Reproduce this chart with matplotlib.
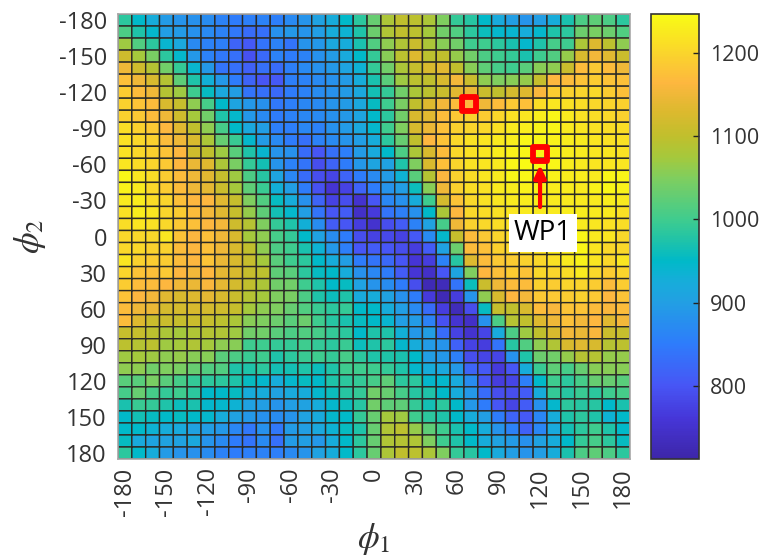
import numpy as np
import matplotlib
matplotlib.use("Agg")
import matplotlib.pyplot as plt
from matplotlib.colors import LinearSegmentedColormap
from matplotlib.markers import MarkerStyle

plt.rcParams["font.family"] = ["Open Sans", "DejaVu Sans"]
plt.rcParams["mathtext.fontset"] = "stix"

TICKS = list(range(-180, 181, 30))
PHI = list(range(-180, 181, 10))

# value read per cell, rows run from phi2 = -180 (top) to 180 (bottom)
ENERGY = [
    [985,950,925,895,885,880,875,860,850,855,860,855,870,885,905,925,950,985,1030, 1080,1100,1095,1080,1050,990,980,950,920,900,885,900,925,970,1010,1025,1010,985],
    [1010,975,945,900,895,880,870,860,845,830,835,880,890,885,900,925,935,975,1035, 1085,1100,1095,1075,1040,1015,985,960,945,940,925,945,975,985,1035,1045,1035,1015],
    [1070,1015,985,940,915,870,860,855,820,805,840,860,840,885,890,915,925,970,1015, 1060,1085,1110,1080,1055,1040,1000,1000,985,970,945,975,1005,1000,1080,1130,1095,1060],
    [1115,1075,1045,985,945,890,860,845,835,795,825,860,850,860,880,895,920,950,990, 1055,1095,1130,1095,1100,1065,1040,1010,1000,990,970,1000,1015,1065,1125,1155,1135,1110],
    [1150,1115,1090,1040,990,940,890,840,835,815,835,830,855,870,880,890,910,935,990, 1040,1080,1105,1125,1135,1100,1055,1025,1005,1000,1020,1055,1060,1110,1170,1185,1170,1150],
    [1175,1150,1125,1090,1025,975,930,890,850,820,800,805,855,860,870,880,895,925,970, 1020,1070,1095,1100,1125,1155,1110,1060,1050,1055,1065,1105,1165,1170,1180,1190,1180,1175],
    [1190,1170,1150,1090,1070,1000,955,915,900,840,835,825,850,860,875,880,895,915,965, 990,1040,1080,1095,1110,1135,1145,1110,1100,1120,1130,1160,1190,1195,1200,1205,1190,1175],
    [1195,1180,1170,1125,1105,1060,1005,950,910,890,880,845,855,865,870,885,895,915,955, 1000,1045,1100,1130,1155,1170,1165,1150,1170,1185,1175,1210,1220,1215,1210,1205,1200,1195],
    [1195,1185,1170,1150,1115,1075,1040,975,945,890,870,850,860,865,870,880,890,910,950, 985,1040,1125,1135,1170,1185,1195,1190,1205,1215,1220,1230,1240,1225,1215,1210,1205,1195],
    [1210,1195,1185,1165,1135,1100,1060,1005,950,915,900,855,855,865,860,880,895,915,945, 1000,1050,1125,1145,1175,1195,1200,1205,1215,1225,1230,1235,1240,1225,1220,1215,1210,1210],
    [1215,1205,1195,1170,1150,1125,1080,1030,995,945,895,870,850,835,860,870,885,900,925, 985,1030,1100,1165,1180,1205,1215,1220,1225,1230,1240,1240,1235,1230,1225,1220,1215,1215],
    [1215,1205,1195,1180,1165,1115,1100,1070,1020,975,940,885,880,830,800,835,855,895,920, 950,1010,1080,1125,1170,1205,1215,1220,1230,1235,1240,1240,1235,1230,1225,1220,1220,1215],
    [1220,1210,1200,1185,1165,1145,1130,1080,1045,990,965,885,860,840,790,820,850,890,910, 905,975,1050,1125,1175,1200,1215,1220,1225,1240,1245,1245,1240,1230,1225,1220,1220,1220],
    [1240,1220,1210,1190,1170,1150,1135,1105,1070,1010,980,910,865,830,790,780,820,850,870, 895,935,1020,1090,1165,1195,1210,1220,1225,1240,1240,1240,1235,1230,1230,1225,1240,1240],
    [1235,1225,1205,1190,1170,1150,1140,1110,1075,1025,995,930,900,850,795,755,775,820,850, 885,900,960,1055,1150,1195,1210,1215,1225,1230,1235,1235,1230,1230,1225,1235,1240,1235],
    [1225,1230,1210,1200,1175,1165,1165,1135,1105,1050,1015,955,925,880,820,775,790,750,800, 865,880,925,1000,1120,1180,1205,1215,1220,1225,1230,1230,1225,1225,1225,1225,1230,1225],
    [1215,1230,1220,1200,1190,1170,1155,1135,1105,1065,1025,965,945,900,840,800,810,745,765, 840,855,880,950,1080,1165,1205,1210,1215,1220,1225,1225,1225,1230,1230,1225,1225,1215],
    [1210,1220,1215,1205,1185,1175,1165,1155,1115,1090,1050,990,975,930,875,810,800,770,750, 790,810,860,905,1005,1150,1195,1205,1210,1215,1220,1220,1225,1230,1225,1220,1215,1210],
    [1205,1205,1205,1220,1180,1165,1175,1150,1125,1075,1060,1005,990,950,905,875,850,790,775, 785,775,805,870,945,1105,1170,1185,1200,1210,1215,1220,1220,1220,1240,1225,1220,1205],
    [1205,1205,1195,1195,1170,1165,1175,1150,1125,1100,1060,1010,1000,970,935,890,855,800,810, 800,790,770,810,905,1035,1170,1175,1195,1205,1210,1215,1225,1225,1240,1220,1205,1205],
    [1220,1195,1190,1190,1170,1165,1180,1145,1125,1105,1075,1020,1000,985,950,925,900,850,840, 825,800,760,770,860,980,1130,1170,1185,1190,1195,1205,1215,1225,1235,1220,1205,1220],
    [1200,1180,1175,1185,1165,1155,1165,1140,1125,1105,1095,1025,1020,985,955,950,925,880,865, 850,810,760,745,800,910,1050,1165,1175,1190,1180,1205,1200,1210,1225,1205,1190,1200],
    [1190,1170,1170,1165,1150,1145,1160,1140,1120,1100,1080,1040,1040,1000,975,950,955,905,885, 875,850,790,725,730,840,960,1110,1150,1170,1170,1195,1190,1200,1200,1190,1170,1190],
    [1180,1165,1155,1135,1125,1130,1140,1125,1110,1090,1075,1050,1045,1010,975,960,975,920,925, 905,880,850,765,725,770,885,1060,1125,1165,1155,1185,1185,1190,1195,1185,1165,1180],
    [1170,1150,1145,1120,1120,1125,1120,1115,1105,1075,1060,1050,1030,1015,995,985,990,950,950, 925,900,870,830,770,730,790,955,1105,1100,1125,1170,1160,1180,1180,1170,1160,1170],
    [1170,1130,1110,1110,1105,1110,1105,1095,1080,1055,1050,1035,1020,1035,1000,980,970,955,950, 940,900,895,860,795,755,745,880,1010,1090,1100,1130,1150,1175,1155,1165,1135,1155],
    [1105,1105,1095,1080,1075,1085,1090,1085,1070,1040,1040,1020,1010,1015,1005,990,985,950,975, 975,930,890,900,830,775,750,780,920,1010,1070,1100,1125,1155,1145,1160,1110,1105],
    [1095,1090,1095,1070,1075,1085,1075,1060,1055,1000,1000,990,990,1000,990,985,995,960,975, 985,945,925,895,885,815,775,770,840,980,1015,1060,1085,1125,1135,1125,1090,1095],
    [1070,1075,1070,1060,1065,1055,1055,1020,1010,995,1000,975,985,995,1000,990,1005,985,975, 975,970,950,900,890,855,790,780,780,880,975,1035,1040,1065,1090,1090,1065,1065],
    [1060,1060,1040,1050,1045,1030,1015,1015,975,975,985,965,965,975,960,975,1000,1000,1000, 990,975,945,925,915,890,820,805,765,800,925,995,1025,1005,1030,1055,1055,1055],
    [1020,1020,1045,1020,1005,990,985,985,975,955,945,925,945,955,950,975,985,990,1005, 1025,985,985,945,945,920,875,800,770,780,855,950,1000,985,1005,1030,1030,1020],
    [1005,1030,1005,990,1000,985,950,950,955,925,925,905,920,925,945,960,980,990,1040, 1030,1005,980,975,950,925,890,830,790,790,810,925,990,980,995,985,1000,1005],
    [970,995,990,975,960,970,945,945,935,905,900,885,900,905,925,945,960,980,1040, 1025,1025,990,965,985,950,890,850,800,780,810,880,945,985,980,980,950,970],
    [950,965,955,950,955,950,945,925,905,890,880,875,885,905,920,945,950,990,1030, 1075,1070,1000,985,975,950,925,900,850,820,805,865,925,975,985,975,935,950],
    [950,950,935,925,920,905,900,890,865,845,880,845,895,900,915,935,955,975,1030, 1085,1095,1065,1025,1000,970,950,925,885,860,815,865,920,965,985,1000,975,950],
    [955,920,910,905,905,915,885,870,850,840,870,835,895,900,890,925,950,985,1030, 1085,1090,1085,1050,1000,975,950,925,905,895,880,905,925,950,990,1005,985,955],
    [985,950,925,895,885,880,875,860,850,855,860,855,870,885,905,925,950,985,1030, 1080,1100,1095,1080,1050,990,980,950,920,900,885,900,925,970,1010,1025,1010,985],
]

VMIN, VMAX = 712, 1247
CBAR_TICKS = [800, 900, 1000, 1100, 1200]

# colours taken from the colorbar of the reference
CMAP_VALUES = [712, 760, 800, 850, 900, 925, 950, 975, 1000, 1050, 1075, 1100, 1130, 1165, 1200, 1247]
CMAP_COLORS = ["#3d26a8", "#4636d8", "#4756f5", "#2e7cfb", "#229fe3", "#17adda", "#00b9c8", "#20c3a8",
               "#3fcc8e", "#7fce5f", "#a5c93c", "#c0bf2d", "#dcb92e", "#fdb73f", "#fad42c", "#f9fb15"]

MARKED_PHI1 = [69, 120]
MARKED_PHI2 = [-110, -69]
WP1_PHI1 = 120
WP1_LABEL_PHI1 = 122
WP1_LABEL_PHI2 = -3

stops = [(v - VMIN) / (VMAX - VMIN) for v in CMAP_VALUES]
cmap = LinearSegmentedColormap.from_list("parula_like", list(zip(stops, CMAP_COLORS)), N=256)

W, H = 763, 560
fig = plt.figure(figsize=(W / 100, H / 100), dpi=100)
ax = fig.add_axes([118 / W, 1 - 459 / H, 512 / W, 445 / H])
cax = fig.add_axes([651 / W, 1 - 459 / H, 48 / W, 445 / H])

phi = np.array(PHI)
edges = np.append(phi - 5, phi[-1] + 5)
mesh = ax.pcolormesh(edges, edges, np.array(ENERGY), cmap=cmap, vmin=VMIN, vmax=VMAX,
                     edgecolors="#2b2a26", linewidth=1.0, antialiased=True)
mesh.set_snap(False)
ax.set_xlim(-185, 185)
ax.set_ylim(185, -185)
ax.set_xticks(TICKS)
ax.set_yticks(TICKS)
ax.set_xticklabels([str(t) for t in TICKS], rotation=90)
ax.set_yticklabels([str(t) for t in TICKS])
ax.tick_params(length=0, labelsize=17, labelcolor="#333333", pad=6)
ax.tick_params(axis="y", pad=8)
for s in ax.spines.values():
    s.set_color("#a8a8a8")
    s.set_linewidth(1.2)

marker = MarkerStyle("s", fillstyle="none", joinstyle="round")
ax.plot(MARKED_PHI1, MARKED_PHI2, linestyle="none", marker=marker, ms=10.6, mew=4.2, color="#ff0000", zorder=5)

ax.annotate("", xy=(WP1_PHI1, -59.5), xytext=(WP1_PHI1, -24.5), zorder=6,
            arrowprops=dict(arrowstyle="-|>,head_length=0.75,head_width=0.35", color="#ff0000", lw=3,
                            shrinkA=0, shrinkB=0))
ax.text(WP1_LABEL_PHI1, WP1_LABEL_PHI2, "WP1", fontsize=20, color="black", ha="center", va="center", zorder=7,
        bbox=dict(facecolor="white", edgecolor="none", pad=3.5))

ax.set_xlabel(r"$\phi_1$", fontsize=25, color="#333333", labelpad=4)
ax.set_ylabel(r"$\phi_2$", fontsize=25, color="#333333", labelpad=8)

cbar = fig.colorbar(mesh, cax=cax)
cbar.set_ticks(CBAR_TICKS)
cbar.ax.tick_params(direction="in", length=4, width=1, labelsize=15.5, labelcolor="#333333", color="#222222", pad=8)
cbar.outline.set_edgecolor("#333333")
cbar.outline.set_linewidth(1.2)

fig.savefig("out.png", dpi=100)
plt.close()
